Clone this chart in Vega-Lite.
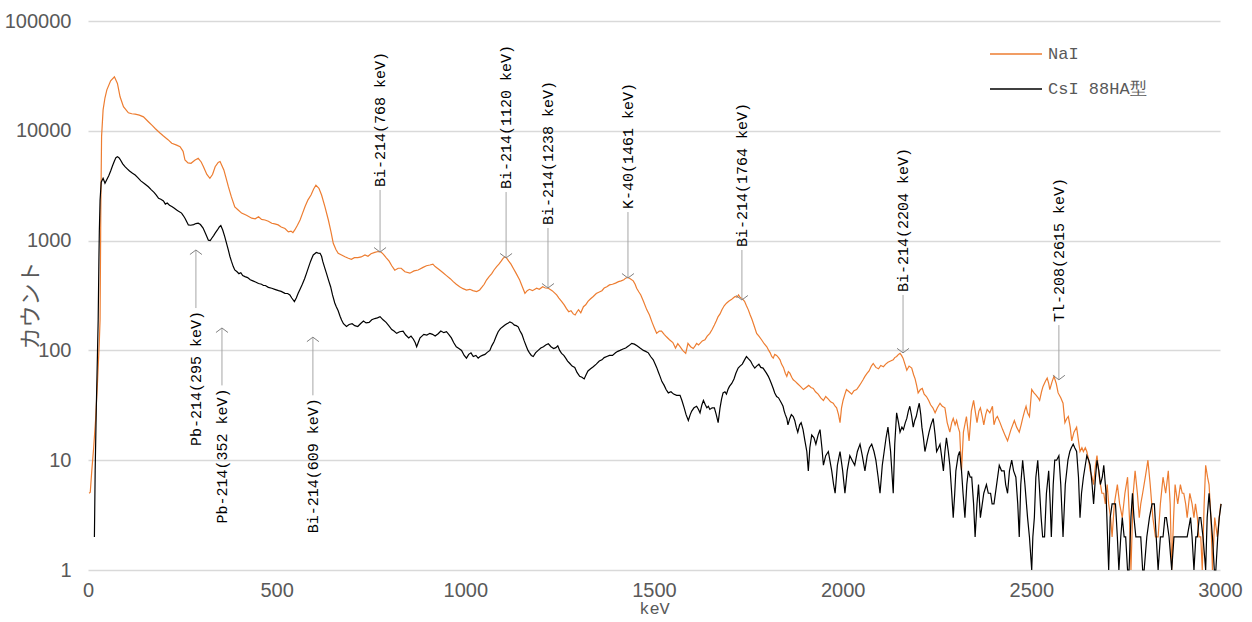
{
"$schema":"https://vega.github.io/schema/vega-lite/v6.json",
"width":1132,"height":549,
"autosize":{"type":"none"},
"padding":{"left":88,"top":21,"right":32,"bottom":52},
"background":"white",
"config":{"view":{"stroke":null}},
"datasets":{
"nai":[{"e":3,"c":5},{"e":6,"c":5.1},{"e":10,"c":8},{"e":15,"c":13},{"e":20,"c":23},{"e":25,"c":50},{"e":30,"c":120},{"e":32,"c":190},{"e":34,"c":2000},{"e":36,"c":8900},{"e":40,"c":15500},{"e":45,"c":20000},{"e":50,"c":23600},{"e":60,"c":28500},{"e":70,"c":31000},{"e":78,"c":27000},{"e":85,"c":20400},{"e":94,"c":16600},{"e":107,"c":14600},{"e":116,"c":14300},{"e":125,"c":14200},{"e":136,"c":13900},{"e":147,"c":13400},{"e":160,"c":12100},{"e":170,"c":11200},{"e":178,"c":10500},{"e":190,"c":9600},{"e":200,"c":8970},{"e":212,"c":8300},{"e":222,"c":7700},{"e":235,"c":7400},{"e":244,"c":7160},{"e":252,"c":6500},{"e":257,"c":5420},{"e":265,"c":5100},{"e":273,"c":5060},{"e":283,"c":5400},{"e":292,"c":5620},{"e":300,"c":5200},{"e":306,"c":4710},{"e":315,"c":4000},{"e":323,"c":3690},{"e":330,"c":4000},{"e":337,"c":4710},{"e":345,"c":5150},{"e":350,"c":5250},{"e":360,"c":4400},{"e":366,"c":3700},{"e":372,"c":3100},{"e":380,"c":2500},{"e":389,"c":2030},{"e":398,"c":1900},{"e":407,"c":1780},{"e":420,"c":1700},{"e":434,"c":1600},{"e":443,"c":1580},{"e":452,"c":1650},{"e":460,"c":1560},{"e":469,"c":1540},{"e":478,"c":1500},{"e":487,"c":1440},{"e":495,"c":1420},{"e":504,"c":1390},{"e":512,"c":1330},{"e":522,"c":1290},{"e":531,"c":1200},{"e":538,"c":1220},{"e":543,"c":1180},{"e":548,"c":1250},{"e":555,"c":1380},{"e":562,"c":1540},{"e":568,"c":1750},{"e":575,"c":2030},{"e":583,"c":2350},{"e":591,"c":2600},{"e":598,"c":2950},{"e":604,"c":3200},{"e":612,"c":3000},{"e":619,"c":2600},{"e":628,"c":2030},{"e":637,"c":1540},{"e":644,"c":1200},{"e":650,"c":945},{"e":657,"c":830},{"e":663,"c":766},{"e":672,"c":740},{"e":681,"c":713},{"e":690,"c":690},{"e":698,"c":676},{"e":706,"c":700},{"e":715,"c":700},{"e":724,"c":710},{"e":734,"c":740},{"e":742,"c":720},{"e":750,"c":760},{"e":760,"c":780},{"e":769,"c":795},{"e":776,"c":790},{"e":783,"c":750},{"e":790,"c":700},{"e":798,"c":650},{"e":805,"c":590},{"e":813,"c":538},{"e":822,"c":560},{"e":830,"c":560},{"e":840,"c":520},{"e":853,"c":505},{"e":864,"c":530},{"e":875,"c":540},{"e":888,"c":570},{"e":897,"c":590},{"e":906,"c":600},{"e":914,"c":610},{"e":920,"c":580},{"e":932,"c":540},{"e":941,"c":510},{"e":950,"c":480},{"e":960,"c":450},{"e":968,"c":423},{"e":976,"c":400},{"e":985,"c":380},{"e":994,"c":365},{"e":1003,"c":354},{"e":1012,"c":360},{"e":1020,"c":350},{"e":1030,"c":343},{"e":1038,"c":355},{"e":1045,"c":380},{"e":1050,"c":400},{"e":1056,"c":437},{"e":1063,"c":470},{"e":1070,"c":500},{"e":1076,"c":540},{"e":1083,"c":580},{"e":1089,"c":610},{"e":1095,"c":650},{"e":1100,"c":690},{"e":1105,"c":713},{"e":1110,"c":690},{"e":1115,"c":650},{"e":1121,"c":610},{"e":1127,"c":560},{"e":1135,"c":500},{"e":1144,"c":437},{"e":1151,"c":380},{"e":1158,"c":331},{"e":1164,"c":350},{"e":1170,"c":360},{"e":1178,"c":350},{"e":1189,"c":368},{"e":1196,"c":360},{"e":1205,"c":380},{"e":1212,"c":370},{"e":1220,"c":368},{"e":1230,"c":350},{"e":1242,"c":320},{"e":1248,"c":300},{"e":1255,"c":280},{"e":1262,"c":260},{"e":1268,"c":240},{"e":1274,"c":225},{"e":1280,"c":230},{"e":1286,"c":215},{"e":1291,"c":210},{"e":1296,"c":225},{"e":1300,"c":235},{"e":1306,"c":220},{"e":1313,"c":250},{"e":1319,"c":260},{"e":1325,"c":280},{"e":1332,"c":295},{"e":1339,"c":310},{"e":1347,"c":330},{"e":1355,"c":340},{"e":1362,"c":350},{"e":1368,"c":370},{"e":1375,"c":380},{"e":1382,"c":395},{"e":1390,"c":400},{"e":1398,"c":410},{"e":1406,"c":423},{"e":1413,"c":430},{"e":1420,"c":440},{"e":1425,"c":455},{"e":1430,"c":463},{"e":1437,"c":450},{"e":1445,"c":430},{"e":1450,"c":400},{"e":1454,"c":368},{"e":1460,"c":340},{"e":1465,"c":320},{"e":1472,"c":280},{"e":1481,"c":234},{"e":1488,"c":210},{"e":1495,"c":180},{"e":1501,"c":160},{"e":1507,"c":143},{"e":1514,"c":150},{"e":1520,"c":150},{"e":1527,"c":140},{"e":1533,"c":133},{"e":1541,"c":125},{"e":1550,"c":118},{"e":1557,"c":105},{"e":1563,"c":115},{"e":1569,"c":108},{"e":1576,"c":100},{"e":1584,"c":94},{"e":1590,"c":116},{"e":1597,"c":108},{"e":1604,"c":104},{"e":1609,"c":110},{"e":1613,"c":116},{"e":1618,"c":112},{"e":1622,"c":116},{"e":1628,"c":122},{"e":1635,"c":125},{"e":1641,"c":135},{"e":1648,"c":143},{"e":1654,"c":155},{"e":1660,"c":170},{"e":1665,"c":185},{"e":1670,"c":203},{"e":1675,"c":215},{"e":1680,"c":235},{"e":1686,"c":255},{"e":1692,"c":269},{"e":1698,"c":280},{"e":1705,"c":290},{"e":1710,"c":300},{"e":1715,"c":310},{"e":1720,"c":305},{"e":1724,"c":320},{"e":1728,"c":305},{"e":1732,"c":299},{"e":1736,"c":290},{"e":1740,"c":280},{"e":1745,"c":255},{"e":1750,"c":234},{"e":1755,"c":210},{"e":1760,"c":190},{"e":1766,"c":165},{"e":1772,"c":143},{"e":1778,"c":135},{"e":1785,"c":125},{"e":1792,"c":115},{"e":1799,"c":108},{"e":1804,"c":100},{"e":1808,"c":95},{"e":1812,"c":88},{"e":1816,"c":85},{"e":1820,"c":92},{"e":1825,"c":90},{"e":1830,"c":86},{"e":1834,"c":82},{"e":1838,"c":75},{"e":1843,"c":70},{"e":1848,"c":62},{"e":1852,"c":58},{"e":1856,"c":64},{"e":1860,"c":62},{"e":1865,"c":57},{"e":1869,"c":54},{"e":1875,"c":52},{"e":1880,"c":50},{"e":1888,"c":47},{"e":1896,"c":44},{"e":1903,"c":46},{"e":1910,"c":48},{"e":1916,"c":46},{"e":1922,"c":45},{"e":1928,"c":42},{"e":1935,"c":40},{"e":1942,"c":37},{"e":1949,"c":35},{"e":1955,"c":38},{"e":1962,"c":36},{"e":1968,"c":34},{"e":1975,"c":33},{"e":1980,"c":31},{"e":1984,"c":30},{"e":1989,"c":26},{"e":1993,"c":22},{"e":1997,"c":30},{"e":2001,"c":35},{"e":2006,"c":40},{"e":2010,"c":44},{"e":2017,"c":42},{"e":2024,"c":40},{"e":2030,"c":43},{"e":2037,"c":44},{"e":2043,"c":47},{"e":2048,"c":50},{"e":2054,"c":54},{"e":2059,"c":58},{"e":2065,"c":62},{"e":2070,"c":65},{"e":2076,"c":72},{"e":2081,"c":76},{"e":2088,"c":70},{"e":2095,"c":68},{"e":2101,"c":73},{"e":2108,"c":71},{"e":2114,"c":75},{"e":2120,"c":78},{"e":2127,"c":80},{"e":2134,"c":82},{"e":2138,"c":86},{"e":2143,"c":88},{"e":2148,"c":92},{"e":2152,"c":94},{"e":2156,"c":90},{"e":2160,"c":85},{"e":2165,"c":75},{"e":2170,"c":66},{"e":2176,"c":72},{"e":2183,"c":69},{"e":2188,"c":60},{"e":2192,"c":55},{"e":2196,"c":48},{"e":2200,"c":41},{"e":2206,"c":44},{"e":2211,"c":45},{"e":2216,"c":40},{"e":2222,"c":38},{"e":2228,"c":35},{"e":2233,"c":32},{"e":2239,"c":30},{"e":2245,"c":27},{"e":2251,"c":30},{"e":2258,"c":33},{"e":2264,"c":31},{"e":2271,"c":30},{"e":2277,"c":22},{"e":2284,"c":18},{"e":2289,"c":22},{"e":2293,"c":24},{"e":2298,"c":21},{"e":2302,"c":23},{"e":2306,"c":20},{"e":2310,"c":18},{"e":2315,"c":8},{"e":2320,"c":18},{"e":2328,"c":25},{"e":2335,"c":15},{"e":2341,"c":28},{"e":2347,"c":35},{"e":2352,"c":27},{"e":2356,"c":22},{"e":2361,"c":28},{"e":2365,"c":30},{"e":2370,"c":25},{"e":2374,"c":21},{"e":2379,"c":26},{"e":2383,"c":29},{"e":2390,"c":27},{"e":2397,"c":31},{"e":2401,"c":21},{"e":2406,"c":24},{"e":2410,"c":25},{"e":2417,"c":22},{"e":2424,"c":19},{"e":2430,"c":17},{"e":2437,"c":15},{"e":2446,"c":19},{"e":2455,"c":23},{"e":2461,"c":20},{"e":2468,"c":18},{"e":2473,"c":21},{"e":2477,"c":24},{"e":2482,"c":28},{"e":2486,"c":31},{"e":2490,"c":27},{"e":2495,"c":25},{"e":2501,"c":44},{"e":2507,"c":41},{"e":2513,"c":39},{"e":2518,"c":37},{"e":2522,"c":35},{"e":2527,"c":42},{"e":2531,"c":47},{"e":2537,"c":52},{"e":2542,"c":56},{"e":2546,"c":50},{"e":2549,"c":44},{"e":2555,"c":52},{"e":2560,"c":58},{"e":2566,"c":50},{"e":2571,"c":41},{"e":2578,"c":37},{"e":2584,"c":33},{"e":2589,"c":22},{"e":2594,"c":24},{"e":2598,"c":25},{"e":2603,"c":20},{"e":2607,"c":15},{"e":2613,"c":18},{"e":2620,"c":20},{"e":2625,"c":15},{"e":2629,"c":12},{"e":2634,"c":13},{"e":2638,"c":12},{"e":2643,"c":13},{"e":2647,"c":12},{"e":2652,"c":10},{"e":2656,"c":8},{"e":2661,"c":7},{"e":2665,"c":6},{"e":2670,"c":9},{"e":2674,"c":11},{"e":2680,"c":7},{"e":2687,"c":5},{"e":2692,"c":5},{"e":2696,"c":4},{"e":2701,"c":6},{"e":2705,"c":4},{"e":2710,"c":3},{"e":2714,"c":2},{"e":2720,"c":4},{"e":2728,"c":6},{"e":2734,"c":4},{"e":2741,"c":3},{"e":2748,"c":5},{"e":2755,"c":7},{"e":2760,"c":3},{"e":2764,"c":1},{"e":2770,"c":5},{"e":2775,"c":8},{"e":2781,"c":5},{"e":2786,"c":3},{"e":2790,"c":4},{"e":2795,"c":5},{"e":2802,"c":7},{"e":2809,"c":10},{"e":2815,"c":6},{"e":2822,"c":3},{"e":2829,"c":2},{"e":2836,"c":2},{"e":2842,"c":4},{"e":2849,"c":7},{"e":2856,"c":5},{"e":2863,"c":8},{"e":2868,"c":4},{"e":2872,"c":1},{"e":2877,"c":3},{"e":2881,"c":6},{"e":2888,"c":4},{"e":2895,"c":6},{"e":2900,"c":5},{"e":2904,"c":5},{"e":2909,"c":4},{"e":2913,"c":3},{"e":2920,"c":5},{"e":2926,"c":4},{"e":2931,"c":3},{"e":2935,"c":4},{"e":2940,"c":3},{"e":2944,"c":2},{"e":2949,"c":2},{"e":2953,"c":1},{"e":2958,"c":4},{"e":2962,"c":9},{"e":2967,"c":7},{"e":2971,"c":6},{"e":2976,"c":3},{"e":2980,"c":1},{"e":2986,"c":3},{"e":2993,"c":2},{"e":2998,"c":3},{"e":3002,"c":4}],
"csi":[{"e":17,"c":2},{"e":19,"c":8},{"e":22,"c":30},{"e":25,"c":90},{"e":27,"c":190},{"e":29,"c":700},{"e":30,"c":1200},{"e":32,"c":2340},{"e":35,"c":3400},{"e":40,"c":3690},{"e":45,"c":3330},{"e":50,"c":3600},{"e":55,"c":3900},{"e":60,"c":4300},{"e":65,"c":4800},{"e":70,"c":5300},{"e":74,"c":5700},{"e":78,"c":5800},{"e":82,"c":5700},{"e":85,"c":5500},{"e":92,"c":5000},{"e":98,"c":4710},{"e":104,"c":4500},{"e":110,"c":4300},{"e":118,"c":4100},{"e":125,"c":3960},{"e":132,"c":3750},{"e":140,"c":3500},{"e":150,"c":3300},{"e":160,"c":3090},{"e":168,"c":2900},{"e":175,"c":2750},{"e":181,"c":2600},{"e":187,"c":2430},{"e":193,"c":2380},{"e":200,"c":2300},{"e":205,"c":2150},{"e":210,"c":2200},{"e":216,"c":2100},{"e":222,"c":2040},{"e":228,"c":1980},{"e":235,"c":1900},{"e":240,"c":1850},{"e":248,"c":1780},{"e":252,"c":1700},{"e":257,"c":1600},{"e":262,"c":1480},{"e":266,"c":1390},{"e":272,"c":1380},{"e":280,"c":1400},{"e":286,"c":1430},{"e":292,"c":1440},{"e":298,"c":1400},{"e":305,"c":1300},{"e":312,"c":1150},{"e":319,"c":1010},{"e":324,"c":1000},{"e":328,"c":1050},{"e":333,"c":1110},{"e":337,"c":1170},{"e":343,"c":1250},{"e":348,"c":1330},{"e":352,"c":1370},{"e":357,"c":1250},{"e":362,"c":1100},{"e":367,"c":950},{"e":372,"c":820},{"e":376,"c":720},{"e":380,"c":650},{"e":385,"c":580},{"e":389,"c":540},{"e":395,"c":520},{"e":400,"c":500},{"e":405,"c":510},{"e":410,"c":480},{"e":416,"c":470},{"e":423,"c":460},{"e":430,"c":440},{"e":437,"c":430},{"e":444,"c":420},{"e":452,"c":407},{"e":460,"c":400},{"e":465,"c":390},{"e":470,"c":390},{"e":478,"c":375},{"e":487,"c":368},{"e":495,"c":360},{"e":505,"c":350},{"e":512,"c":345},{"e":522,"c":331},{"e":529,"c":330},{"e":535,"c":320},{"e":540,"c":300},{"e":547,"c":278},{"e":552,"c":300},{"e":557,"c":331},{"e":562,"c":360},{"e":568,"c":400},{"e":574,"c":450},{"e":579,"c":503},{"e":585,"c":580},{"e":590,"c":650},{"e":594,"c":700},{"e":597,"c":740},{"e":601,"c":760},{"e":605,"c":780},{"e":610,"c":770},{"e":615,"c":766},{"e":619,"c":720},{"e":622,"c":650},{"e":627,"c":570},{"e":632,"c":503},{"e":638,"c":430},{"e":643,"c":380},{"e":648,"c":320},{"e":654,"c":270},{"e":658,"c":250},{"e":663,"c":230},{"e":668,"c":205},{"e":672,"c":189},{"e":677,"c":175},{"e":685,"c":165},{"e":692,"c":172},{"e":700,"c":175},{"e":707,"c":168},{"e":715,"c":165},{"e":722,"c":175},{"e":730,"c":185},{"e":737,"c":178},{"e":745,"c":180},{"e":752,"c":190},{"e":760,"c":195},{"e":767,"c":198},{"e":774,"c":203},{"e":782,"c":190},{"e":790,"c":180},{"e":797,"c":168},{"e":805,"c":155},{"e":811,"c":150},{"e":818,"c":143},{"e":826,"c":148},{"e":835,"c":150},{"e":842,"c":138},{"e":850,"c":130},{"e":856,"c":135},{"e":862,"c":127},{"e":867,"c":118},{"e":871,"c":108},{"e":876,"c":120},{"e":880,"c":130},{"e":885,"c":135},{"e":890,"c":140},{"e":898,"c":138},{"e":906,"c":143},{"e":913,"c":140},{"e":920,"c":135},{"e":928,"c":142},{"e":935,"c":150},{"e":943,"c":145},{"e":950,"c":148},{"e":956,"c":140},{"e":963,"c":130},{"e":969,"c":118},{"e":976,"c":108},{"e":983,"c":104},{"e":990,"c":100},{"e":997,"c":90},{"e":1003,"c":85},{"e":1009,"c":92},{"e":1015,"c":95},{"e":1021,"c":88},{"e":1028,"c":90},{"e":1034,"c":85},{"e":1039,"c":88},{"e":1045,"c":90},{"e":1052,"c":92},{"e":1058,"c":96},{"e":1065,"c":100},{"e":1070,"c":110},{"e":1076,"c":120},{"e":1082,"c":135},{"e":1087,"c":148},{"e":1093,"c":158},{"e":1100,"c":165},{"e":1105,"c":170},{"e":1110,"c":175},{"e":1114,"c":178},{"e":1118,"c":182},{"e":1124,"c":178},{"e":1130,"c":170},{"e":1135,"c":168},{"e":1140,"c":164},{"e":1145,"c":150},{"e":1150,"c":140},{"e":1156,"c":122},{"e":1162,"c":108},{"e":1166,"c":100},{"e":1170,"c":95},{"e":1175,"c":90},{"e":1180,"c":88},{"e":1186,"c":95},{"e":1193,"c":100},{"e":1200,"c":105},{"e":1207,"c":108},{"e":1213,"c":112},{"e":1220,"c":115},{"e":1227,"c":108},{"e":1234,"c":104},{"e":1240,"c":106},{"e":1245,"c":110},{"e":1250,"c":100},{"e":1255,"c":94},{"e":1261,"c":90},{"e":1266,"c":85},{"e":1271,"c":80},{"e":1277,"c":76},{"e":1283,"c":72},{"e":1290,"c":70},{"e":1296,"c":63},{"e":1303,"c":58},{"e":1309,"c":57},{"e":1315,"c":55},{"e":1320,"c":60},{"e":1325,"c":65},{"e":1332,"c":68},{"e":1339,"c":71},{"e":1347,"c":75},{"e":1355,"c":80},{"e":1362,"c":82},{"e":1368,"c":86},{"e":1375,"c":88},{"e":1382,"c":90},{"e":1390,"c":90},{"e":1398,"c":95},{"e":1404,"c":98},{"e":1410,"c":100},{"e":1418,"c":103},{"e":1425,"c":105},{"e":1433,"c":110},{"e":1441,"c":116},{"e":1448,"c":114},{"e":1455,"c":110},{"e":1463,"c":105},{"e":1472,"c":100},{"e":1478,"c":98},{"e":1485,"c":95},{"e":1491,"c":88},{"e":1498,"c":82},{"e":1503,"c":75},{"e":1507,"c":70},{"e":1512,"c":63},{"e":1516,"c":58},{"e":1521,"c":52},{"e":1527,"c":48},{"e":1532,"c":44},{"e":1538,"c":41},{"e":1545,"c":42},{"e":1552,"c":40},{"e":1560,"c":39},{"e":1569,"c":39},{"e":1574,"c":35},{"e":1580,"c":30},{"e":1585,"c":26},{"e":1591,"c":23},{"e":1596,"c":26},{"e":1600,"c":28},{"e":1606,"c":30},{"e":1613,"c":31},{"e":1618,"c":29},{"e":1622,"c":27},{"e":1627,"c":32},{"e":1631,"c":35},{"e":1636,"c":32},{"e":1640,"c":30},{"e":1644,"c":31},{"e":1648,"c":29},{"e":1654,"c":30},{"e":1660,"c":30},{"e":1665,"c":26},{"e":1670,"c":22},{"e":1675,"c":30},{"e":1679,"c":36},{"e":1683,"c":41},{"e":1688,"c":42},{"e":1692,"c":40},{"e":1696,"c":44},{"e":1700,"c":47},{"e":1706,"c":50},{"e":1712,"c":55},{"e":1717,"c":62},{"e":1723,"c":69},{"e":1728,"c":72},{"e":1734,"c":75},{"e":1740,"c":82},{"e":1745,"c":88},{"e":1750,"c":84},{"e":1756,"c":80},{"e":1761,"c":74},{"e":1767,"c":69},{"e":1772,"c":72},{"e":1778,"c":75},{"e":1783,"c":70},{"e":1789,"c":69},{"e":1794,"c":65},{"e":1798,"c":62},{"e":1803,"c":58},{"e":1807,"c":54},{"e":1811,"c":50},{"e":1816,"c":45},{"e":1820,"c":41},{"e":1825,"c":38},{"e":1830,"c":37},{"e":1834,"c":35},{"e":1838,"c":33},{"e":1842,"c":31},{"e":1845,"c":28},{"e":1848,"c":26},{"e":1852,"c":24},{"e":1855,"c":21},{"e":1860,"c":24},{"e":1864,"c":26},{"e":1869,"c":25},{"e":1873,"c":23},{"e":1877,"c":20},{"e":1881,"c":18},{"e":1886,"c":21},{"e":1890,"c":22},{"e":1895,"c":19},{"e":1900,"c":15},{"e":1905,"c":12},{"e":1909,"c":8},{"e":1913,"c":13},{"e":1918,"c":17},{"e":1924,"c":16},{"e":1929,"c":14},{"e":1935,"c":17},{"e":1940,"c":19},{"e":1945,"c":13},{"e":1949,"c":9},{"e":1955,"c":11},{"e":1962,"c":12},{"e":1966,"c":10},{"e":1971,"c":8},{"e":1976,"c":6},{"e":1980,"c":5},{"e":1986,"c":9},{"e":1993,"c":12},{"e":2000,"c":8},{"e":2006,"c":5},{"e":2012,"c":8},{"e":2019,"c":11},{"e":2025,"c":10},{"e":2032,"c":9},{"e":2039,"c":12},{"e":2046,"c":14},{"e":2052,"c":11},{"e":2059,"c":8},{"e":2065,"c":11},{"e":2071,"c":13},{"e":2077,"c":14},{"e":2083,"c":12},{"e":2088,"c":10},{"e":2094,"c":7},{"e":2099,"c":5},{"e":2105,"c":9},{"e":2110,"c":12},{"e":2115,"c":16},{"e":2120,"c":20},{"e":2127,"c":12},{"e":2134,"c":5},{"e":2138,"c":14},{"e":2143,"c":27},{"e":2148,"c":22},{"e":2152,"c":18},{"e":2157,"c":20},{"e":2161,"c":19},{"e":2166,"c":22},{"e":2170,"c":24},{"e":2174,"c":28},{"e":2178,"c":31},{"e":2183,"c":25},{"e":2187,"c":20},{"e":2191,"c":23},{"e":2195,"c":25},{"e":2199,"c":29},{"e":2203,"c":33},{"e":2207,"c":26},{"e":2210,"c":20},{"e":2214,"c":16},{"e":2218,"c":12},{"e":2224,"c":15},{"e":2229,"c":18},{"e":2234,"c":21},{"e":2240,"c":24},{"e":2245,"c":17},{"e":2249,"c":12},{"e":2254,"c":13},{"e":2258,"c":14},{"e":2262,"c":11},{"e":2267,"c":8},{"e":2271,"c":12},{"e":2275,"c":16},{"e":2280,"c":12},{"e":2284,"c":9},{"e":2289,"c":5},{"e":2293,"c":3},{"e":2297,"c":5},{"e":2300,"c":8},{"e":2306,"c":11},{"e":2310,"c":12},{"e":2315,"c":8},{"e":2319,"c":5},{"e":2324,"c":3},{"e":2329,"c":6},{"e":2333,"c":8},{"e":2338,"c":7},{"e":2342,"c":7},{"e":2347,"c":4},{"e":2351,"c":2},{"e":2356,"c":4},{"e":2360,"c":6},{"e":2365,"c":3},{"e":2370,"c":4},{"e":2374,"c":5},{"e":2381,"c":6},{"e":2386,"c":5},{"e":2392,"c":5},{"e":2396,"c":4},{"e":2401,"c":4},{"e":2408,"c":6},{"e":2415,"c":9},{"e":2421,"c":8},{"e":2428,"c":8},{"e":2432,"c":6},{"e":2437,"c":5},{"e":2442,"c":8},{"e":2448,"c":10},{"e":2453,"c":8},{"e":2459,"c":7},{"e":2464,"c":4},{"e":2468,"c":2},{"e":2472,"c":6},{"e":2477,"c":10},{"e":2483,"c":6},{"e":2490,"c":3},{"e":2495,"c":2},{"e":2501,"c":1},{"e":2504,"c":2},{"e":2508,"c":3},{"e":2512,"c":7},{"e":2517,"c":10},{"e":2521,"c":6},{"e":2526,"c":3},{"e":2530,"c":2},{"e":2535,"c":2},{"e":2540,"c":5},{"e":2546,"c":8},{"e":2550,"c":4},{"e":2553,"c":2},{"e":2558,"c":6},{"e":2562,"c":10},{"e":2567,"c":10},{"e":2573,"c":11},{"e":2578,"c":6},{"e":2584,"c":2},{"e":2590,"c":6},{"e":2597,"c":10},{"e":2602,"c":12},{"e":2606,"c":13},{"e":2611,"c":14},{"e":2615,"c":13},{"e":2620,"c":12},{"e":2625,"c":7},{"e":2629,"c":3},{"e":2633,"c":5},{"e":2638,"c":7},{"e":2643,"c":9},{"e":2647,"c":11},{"e":2652,"c":10},{"e":2656,"c":9},{"e":2661,"c":6},{"e":2665,"c":4},{"e":2670,"c":7},{"e":2674,"c":10},{"e":2679,"c":8},{"e":2683,"c":6},{"e":2688,"c":7},{"e":2692,"c":9},{"e":2698,"c":5},{"e":2705,"c":1},{"e":2709,"c":3},{"e":2714,"c":4},{"e":2719,"c":4},{"e":2723,"c":4},{"e":2728,"c":2},{"e":2732,"c":1},{"e":2737,"c":2},{"e":2741,"c":3},{"e":2746,"c":2},{"e":2750,"c":2},{"e":2755,"c":1},{"e":2759,"c":1},{"e":2764,"c":3},{"e":2768,"c":5},{"e":2772,"c":3},{"e":2777,"c":2},{"e":2783,"c":2},{"e":2790,"c":2},{"e":2795,"c":1},{"e":2799,"c":1},{"e":2806,"c":2},{"e":2813,"c":3},{"e":2820,"c":4},{"e":2826,"c":4},{"e":2831,"c":2},{"e":2836,"c":1},{"e":2842,"c":2},{"e":2849,"c":2},{"e":2854,"c":3},{"e":2858,"c":3},{"e":2865,"c":2},{"e":2872,"c":1},{"e":2878,"c":2},{"e":2885,"c":2},{"e":2894,"c":2},{"e":2904,"c":2},{"e":2913,"c":2},{"e":2922,"c":3},{"e":2926,"c":2},{"e":2931,"c":1},{"e":2936,"c":2},{"e":2940,"c":2},{"e":2945,"c":3},{"e":2949,"c":3},{"e":2955,"c":2},{"e":2962,"c":1},{"e":2966,"c":3},{"e":2971,"c":5},{"e":2976,"c":3},{"e":2980,"c":2},{"e":2985,"c":1},{"e":2989,"c":1},{"e":2994,"c":2},{"e":2998,"c":3},{"e":3003,"c":4}],
"ann":[
{"t":"Bi-214(768 keV)","e":774,"a":787,"b":2890,"d":"down"},
{"t":"Bi-214(1120 keV)","e":1108,"a":695,"b":2770,"d":"down"},
{"t":"Bi-214(1238 keV)","e":1219,"a":370,"b":1303,"d":"down"},
{"t":"K-40(1461 keV)","e":1431,"a":456,"b":1820,"d":"down"},
{"t":"Bi-214(1764 keV)","e":1733,"a":288,"b":821,"d":"down"},
{"t":"Bi-214(2204 keV)","e":2160,"a":95,"b":320,"d":"down"},
{"t":"Tl-208(2615 keV)","e":2573,"a":54,"b":170,"d":"down"},
{"t":"Pb-214(295 keV)","e":286,"a":821,"b":243,"d":"up"},
{"t":"Pb-214(352 keV)","e":355,"a":160,"b":48,"d":"up"},
{"t":"Bi-214(609 keV)","e":596,"a":132,"b":39,"d":"up"}
]},
"layer":[
{"data":{"name":"nai"},
 "mark":{"type":"line","strokeWidth":1.2},
 "encoding":{
  "x":{"field":"e","type":"quantitative","scale":{"domain":[0,3000],"nice":false},
   "axis":{"values":[0,500,1000,1500,2000,2500,3000],"format":"d","grid":false,"ticks":false,"domain":false,"labelFlush":false,"labelOverlap":false,"labelFont":"Liberation Sans Narrow, Liberation Sans","labelFontSize":20,"labelColor":"#595959","labelPadding":10,"title":"keV","titleFont":"Liberation Mono","titleFontSize":17,"titleFontWeight":"normal","titleColor":"#595959","titleBaseline":"middle","titleY":38}},
  "y":{"field":"c","type":"quantitative","scale":{"type":"log","domain":[1,100000],"nice":false},
   "axis":{"values":[1,10,100,1000,10000,100000],"format":"d","grid":true,"gridColor":"#d9d9d9","gridWidth":1.5,"ticks":false,"domain":false,"labelFlush":false,"labelOverlap":false,"labelFont":"Liberation Sans Narrow, Liberation Sans","labelFontSize":20,"labelColor":"#595959","labelPadding":17,"title":"カウント","titleFont":"Noto Sans CJK JP","titleFontSize":22,"titleFontWeight":"normal","titleColor":"#595959","titleAngle":270,"titleBaseline":"middle","titleAlign":"center","titleX":-58,"titleY":284}},
  "color":{"datum":"NaI","scale":{"domain":["NaI","CsI 88HA型"],"range":["#ED7D31","#000000"]},
   "legend":{"orient":"none","legendX":901,"legendY":6,"title":null,"padding":0,"symbolType":"stroke","symbolSize":2704,"symbolStrokeWidth":1.5,"labelFont":"Liberation Mono","labelFontSize":17,"labelColor":"#595959","labelOffset":5,"rowPadding":-21}}}},
{"data":{"name":"csi"},
 "mark":{"type":"line","strokeWidth":1.2},
 "encoding":{"x":{"field":"e","type":"quantitative"},"y":{"field":"c","type":"quantitative"},"color":{"datum":"CsI 88HA型"}}},
{"data":{"name":"ann"},
 "mark":{"type":"rule","color":"#a6a6a6","strokeWidth":1},
 "encoding":{"x":{"field":"e","type":"quantitative"},"y":{"field":"a","type":"quantitative"},"y2":{"field":"b"}}},
{"data":{"name":"ann"},"transform":[{"filter":"datum.d==='down'"}],
 "mark":{"type":"point","shape":"M-1,-0.75L0,0L1,-0.75","size":144,"filled":false,"stroke":"#808080","strokeWidth":1,"opacity":1},
 "encoding":{"x":{"field":"e","type":"quantitative"},"y":{"field":"a","type":"quantitative"}}},
{"data":{"name":"ann"},"transform":[{"filter":"datum.d==='up'"}],
 "mark":{"type":"point","shape":"M-1,0.75L0,0L1,0.75","size":144,"filled":false,"stroke":"#808080","strokeWidth":1,"opacity":1},
 "encoding":{"x":{"field":"e","type":"quantitative"},"y":{"field":"a","type":"quantitative"}}},
{"data":{"name":"ann"},"transform":[{"filter":"datum.d==='down'"}],
 "mark":{"type":"text","angle":270,"align":"left","baseline":"middle","dx":3,"font":"Liberation Mono","fontSize":15,"color":"#000000"},
 "encoding":{"x":{"field":"e","type":"quantitative"},"y":{"field":"b","type":"quantitative"},"text":{"field":"t"}}},
{"data":{"name":"ann"},"transform":[{"filter":"datum.d==='up'"}],
 "mark":{"type":"text","angle":270,"align":"right","baseline":"middle","dx":-3,"font":"Liberation Mono","fontSize":15,"color":"#000000"},
 "encoding":{"x":{"field":"e","type":"quantitative"},"y":{"field":"b","type":"quantitative"},"text":{"field":"t"}}}
]
}
